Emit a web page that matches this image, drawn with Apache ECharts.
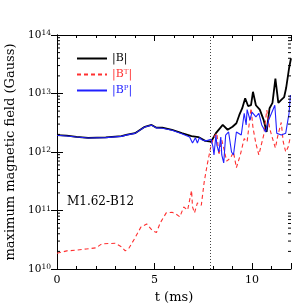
<!DOCTYPE html>
<html>
<head>
<meta charset="utf-8">
<script src="https://cdn.jsdelivr.net/npm/echarts@6/dist/echarts.min.js"></script>
<style>html,body{margin:0;padding:0;background:#fff}#c{width:307px;height:307px}</style>
</head>
<body>
<div id="c"></div>
<script>
// ---- data ----
const tB = [0,0.5,1,1.6,2.5,3.3,3.6,4.0,4.5,4.85,5.1,5.4,5.9,6.4,6.9,7.25,7.6,7.9,8.15,8.5,8.75,9.0,9.2,9.35,9.5,9.65,9.8,9.95,10.05,10.2,10.4,10.6,10.75,10.9,11.05,11.2,11.35,11.5,11.65,11.75,11.9,12];
const vB = [1.95e12,1.9e12,1.82e12,1.75e12,1.78e12,1.87e12,1.98e12,2.1e12,2.7e12,2.9e12,2.6e12,2.6e12,2.4e12,2.1e12,1.87e12,1.8e12,1.55e12,1.5e12,2.1e12,2.9e12,2.4e12,2.7e12,3.1e12,4.3e12,5.6e12,8.3e12,6.1e12,6.3e12,1.07e13,6.3e12,5.3e12,3.5e12,2.2e12,5.6e12,6.9e12,1.8e13,6.9e12,7.8e12,8.7e12,1.24e13,2.7e13,4.0e13];

const tT = [0,0.5,1,1.5,2,2.3,3.0,3.3,3.5,3.7,4.0,4.3,4.6,4.9,5.1,5.3,5.6,5.9,6.1,6.3,6.5,6.7,6.9,6.95,7.05,7.2,7.4,7.55,7.7,7.9,8.05,8.2,8.3,8.45,8.55,8.7,8.9,9.05,9.2,9.4,9.6,9.75,9.95,10.05,10.2,10.35,10.6,10.76,10.9,11.0,11.2,11.33,11.5,11.6,11.73,11.85,11.95];
const vT = [1.86e10,2.04e10,2.1e10,2.2e10,2.3e10,2.7e10,2.75e10,2.4e10,2.04e10,2.3e10,3.4e10,5.2e10,5.9e10,4.5e10,4.2e10,6.2e10,9.1e10,9.3e10,8.7e10,7.8e10,1.15e11,1.02e11,2.2e11,1.15e11,9.1e10,1.35e11,1.23e11,3.1e11,6.0e11,1.3e12,1.8e12,2.1e12,8.9e11,1.6e12,1.17e12,7.0e11,7.9e11,1.0e12,5.4e11,8.9e11,1.7e12,1.5e12,5.6e12,2.6e12,1.4e12,8.9e11,1.95e12,5.2e12,2.6e12,1.95e12,1.17e12,1.95e12,3.2e12,1.5e12,1.0e12,1.2e12,1.7e12];

const tP = [0,0.5,1,1.6,2.5,3.3,3.6,4.0,4.5,4.85,5.1,5.4,5.9,6.4,6.8,6.95,7.1,7.2,7.3,7.45,7.65,7.9,8.0,8.05,8.15,8.2,8.3,8.4,8.45,8.55,8.65,8.8,8.95,9.05,9.2,9.45,9.6,9.7,9.75,9.9,10.0,10.2,10.35,10.5,10.7,10.85,11.0,11.17,11.27,11.5,11.73,11.8,11.9,11.97];
const vP = [1.93e12,1.88e12,1.8e12,1.73e12,1.76e12,1.85e12,1.96e12,2.08e12,2.68e12,2.88e12,2.58e12,2.55e12,2.35e12,2.05e12,1.8e12,1.42e12,1.75e12,1.42e12,1.75e12,1.6e12,1.55e12,1.65e12,1.22e12,8.9e11,1.95e12,1.3e12,1.0e12,1.8e12,8.9e11,6.5e11,1.95e12,2.2e12,1.0e12,8.9e11,2.2e12,1.95e12,4.6e12,2.9e12,5.3e12,3.5e12,4.8e12,4.0e12,4.6e12,2.9e12,2.2e12,3.5e12,4.6e12,6.3e12,2.1e12,1.95e12,2.1e12,2.9e12,4.6e12,9.4e12];

const dotT = 7.85;
const xTicks = [0, 5, 10];
const yExps = [10, 11, 12, 13, 14];
const minorMult = [2,3,4,5,6,7,8,9];
const names = ['B', 'BT', 'BP'];
const caseLabel = 'M1.62-B12';

const zip = (t, v) => t.map((x, i) => [x, v[i]]);
const minorData = [];
for (let e = yExps[0]; e < yExps[yExps.length - 1]; e++) {
  minorMult.forEach(m => minorData.push([0, m * Math.pow(10, e)]));
}

const FONT = 'DejaVu Serif';
const RED = '#ff3030', BLUE = '#2020ff';
const chart = echarts.init(document.getElementById('c'), null, {renderer: 'canvas'});
const legendRich = {
  k: {color: '#000', fontFamily: FONT, fontSize: 11},
  r: {color: RED, fontFamily: FONT, fontSize: 11},
  rs: {color: RED, fontFamily: FONT, fontSize: 7, verticalAlign: 'top', lineHeight: 10},
  b: {color: BLUE, fontFamily: FONT, fontSize: 11},
  bs: {color: BLUE, fontFamily: FONT, fontSize: 7, verticalAlign: 'top', lineHeight: 10}
};
const legendText = {
  'B': '{k||B|}',
  'BT': '{r||B}{rs|T}{r||}',
  'BP': '{b||B}{bs|P}{b||}'
};

chart.setOption({
  animation: false,
  backgroundColor: '#fff',
  grid: {left: 57, right: 16, top: 35, bottom: 38, containLabel: false, outerBoundsMode: 'none'},
  legend: {
    data: names,
    orient: 'vertical',
    left: 76, top: 53, padding: 0,
    itemWidth: 30, itemHeight: 12, itemGap: 5,
    itemStyle: {opacity: 0},
    formatter: n => legendText[n],
    textStyle: {rich: legendRich, fontFamily: FONT, fontSize: 11}
  },
  xAxis: [{
    type: 'value', min: 0, max: 12, interval: 5,
    name: 't (ms)', nameLocation: 'middle', nameGap: 22,
    nameTextStyle: {fontFamily: FONT, fontSize: 13, color: '#000'},
    axisLine: {lineStyle: {color: '#000', width: 1}},
    axisTick: {inside: true, length: 6, lineStyle: {color: '#000'}},
    minorTick: {show: true, splitNumber: 5, length: 3, lineStyle: {color: '#000'}},
    axisLabel: {fontFamily: FONT, fontSize: 11, color: '#000', margin: 6,
      formatter: v => xTicks.indexOf(v) >= 0 ? String(v) : ''},
    splitLine: {show: false}
  }, {
    type: 'value', min: 0, max: 12, interval: 5, position: 'top',
    axisLine: {show: true, lineStyle: {color: '#000', width: 1}},
    axisTick: {inside: true, length: 6, lineStyle: {color: '#000'}},
    minorTick: {show: true, splitNumber: 5, length: 3, lineStyle: {color: '#000'}},
    axisLabel: {show: false}, splitLine: {show: false}
  }],
  yAxis: [{
    type: 'log', logBase: 10, min: 1e10, max: 1e14,
    name: 'maximum magnetic field (Gauss)', nameLocation: 'middle', nameGap: 38,
    nameTextStyle: {fontFamily: FONT, fontSize: 13, color: '#000'},
    axisLine: {show: true, lineStyle: {color: '#000', width: 1}},
    axisTick: {inside: true, length: 6, lineStyle: {color: '#000'}},
    axisLabel: {margin: 6, color: '#000',
      formatter: v => '{m|10}{s|' + Math.round(Math.log10(v)) + '}',
      rich: {
        m: {fontFamily: FONT, fontSize: 10.5, color: '#000'},
        s: {fontFamily: FONT, fontSize: 7.5, color: '#000', verticalAlign: 'top', lineHeight: 9}
      }},
    splitLine: {show: false}
  }, {
    type: 'log', logBase: 10, min: 1e10, max: 1e14, position: 'right',
    axisLine: {show: true, lineStyle: {color: '#000', width: 1}},
    axisTick: {inside: true, length: 6, lineStyle: {color: '#000'}},
    axisLabel: {show: false}, splitLine: {show: false}
  }],
  graphic: [{
    type: 'text', left: 67, top: 196,
    style: {text: caseLabel, font: '12px "' + FONT + '"', fill: '#000'}
  }],
  series: [
    {
      name: 'B', type: 'line', data: zip(tB, vB), symbol: 'none', showSymbol: false,
      lineStyle: {color: '#000', width: 1.8}, itemStyle: {color: '#000'}, z: 3,
      markLine: {
        silent: true, symbol: 'none', label: {show: false},
        lineStyle: {color: '#444', type: [1, 2], width: 1},
        data: [{xAxis: dotT}]
      }
    },
    {
      name: 'BT', type: 'line', data: zip(tT, vT), symbol: 'none', showSymbol: false,
      lineStyle: {color: RED, width: 1.1, type: [4, 3]}, itemStyle: {color: RED}, z: 4
    },
    {
      name: 'BP', type: 'line', data: zip(tP, vP), symbol: 'none', showSymbol: false,
      lineStyle: {color: BLUE, width: 1.1}, itemStyle: {color: BLUE}, z: 5
    },
    {
      name: 'minor', type: 'custom', data: minorData, silent: true, z: 6,
      renderItem: (params, api) => {
        const v = api.value(1);
        const a = api.coord([0, v]);
        const b = api.coord([12, v]);
        return {type: 'group', children: [
          {type: 'line', shape: {x1: a[0], y1: a[1], x2: a[0] + 3, y2: a[1]}, style: {stroke: '#000', lineWidth: 1}},
          {type: 'line', shape: {x1: b[0] - 3, y1: b[1], x2: b[0], y2: b[1]}, style: {stroke: '#000', lineWidth: 1}}
        ]};
      }
    }
  ]
});
</script>
</body>
</html>
